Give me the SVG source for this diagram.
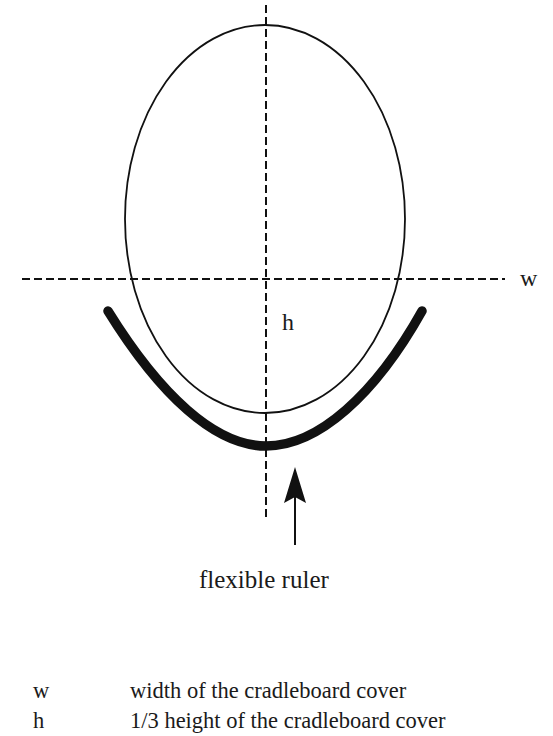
<svg xmlns="http://www.w3.org/2000/svg" width="553" height="736" viewBox="0 0 553 736">
<style>
text{font-family:"Liberation Serif","Times New Roman",serif;fill:#1a1a1a;font-size:24px}
.legend{font-size:22.5px}
.dash{stroke:#111;stroke-width:2;stroke-dasharray:8 4;fill:none}
.outline{stroke:#111;stroke-width:1.8;fill:none}
.ruler{stroke:#111;stroke-width:9.5;fill:none;stroke-linecap:round}
</style>
<rect width="553" height="736" fill="#fff"/>
<g id="cover">
<ellipse class="outline" cx="265" cy="219" rx="140" ry="194"/>
</g>
<g id="axes">
<line class="dash" x1="266" y1="5" x2="266" y2="521"/>
<line class="dash" x1="22" y1="279" x2="505" y2="279"/>
</g>
<g id="ruler">
<path class="ruler" d="M108,311 C160,395 215,446 266,446 C318,446 375,395 422,311"/>
</g>
<g id="connectors">
<line x1="295" y1="545" x2="295" y2="495" stroke="#111" stroke-width="2"/>
<polygon points="295,467 306,503 295,497 284,503" fill="#111"/>
</g>
<g id="labels">
<text x="520" y="286">w</text>
<text x="282" y="330">h</text>
<text x="199" y="588" style="font-size:25px">flexible ruler</text>
</g>
<g id="legend">
<text class="legend" x="33" y="698">w</text>
<text class="legend" x="130" y="698">width of the cradleboard cover</text>
<text class="legend" x="33" y="728">h</text>
<text class="legend" x="130" y="728">1/3 height of the cradleboard cover</text>
</g>
</svg>
